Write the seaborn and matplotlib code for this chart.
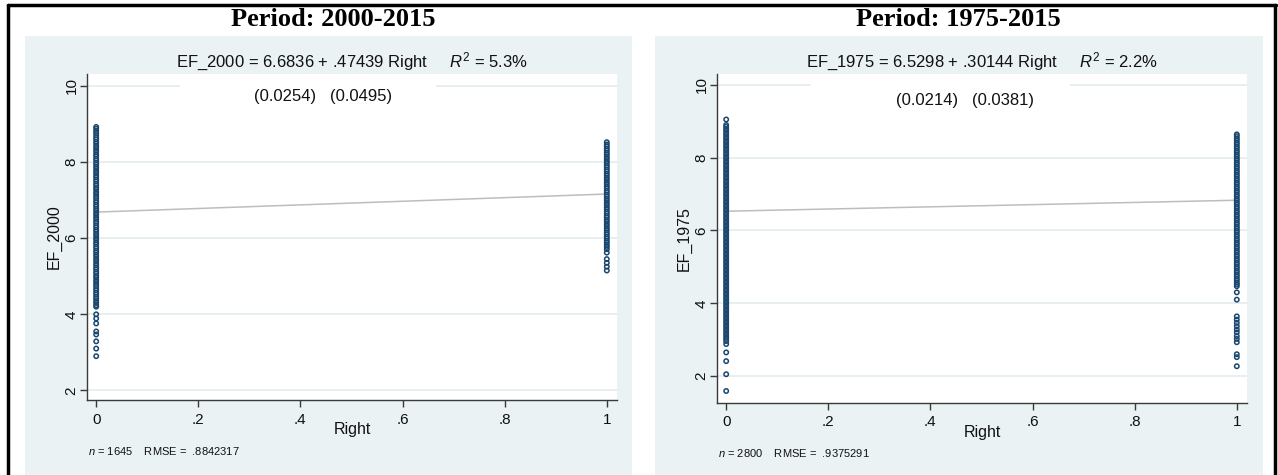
import matplotlib
matplotlib.use("Agg")
import matplotlib.pyplot as plt
import seaborn as sns
import pandas as pd
from matplotlib.patches import Rectangle
from matplotlib.lines import Line2D

# ---------------- data ----------------
panel_titles = ["Period: 2000-2015", "Period: 1975-2015"]
y_names = ["EF_2000", "EF_1975"]
x_name = "Right"
intercepts = [6.6836, 6.5298]
slopes = [0.47439, 0.30144]
se_text = ["(0.0254)   (0.0495)", "(0.0214)   (0.0381)"]
r2_text = ["5.3%", "2.2%"]
n_obs = [1645, 2800]
rmse = [".8842317", ".9375291"]
x_ticks = [0, 0.2, 0.4, 0.6, 0.8, 1]
x_ticklabels = ["0", ".2", ".4", ".6", ".8", "1"]
y_ticks = [2, 4, 6, 8, 10]

# EF_2000 observations, Right = 0
ef2000_right0 = [8.92, 8.87, 8.81, 8.76, 8.7, 8.64, 8.59, 8.53, 8.48, 8.42, 8.37, 8.31,
                 8.26, 8.2, 8.15, 8.09, 8.04, 7.98, 7.93, 7.87, 7.82, 7.76, 7.71, 7.65,
                 7.6, 7.54, 7.49, 7.43, 7.38, 7.32, 7.27, 7.21, 7.16, 7.1, 7.05, 6.99,
                 6.94, 6.88, 6.83, 6.77, 6.72, 6.66, 6.61, 6.55, 6.5, 6.44, 6.39, 6.33,
                 6.28, 6.22, 6.17, 6.11, 6.06, 6.0, 5.95, 5.89, 5.84, 5.78, 5.73, 5.67,
                 5.62, 5.56, 5.51, 5.45, 5.4, 5.34, 5.29, 5.23, 5.18, 5.12, 5.07, 5.01,
                 4.96, 4.9, 4.85, 4.79, 4.74, 4.68, 4.63, 4.57, 4.52, 4.46, 4.41, 4.35,
                 4.3, 4.24, 4.2, 4.0, 3.89, 3.76, 3.55, 3.47, 3.29, 3.1, 2.9]
# EF_2000 observations, Right = 1
ef2000_right1 = [8.52, 8.46, 8.41, 8.35, 8.3, 8.24, 8.19, 8.13, 8.08, 8.02, 7.97, 7.91,
                 7.86, 7.8, 7.75, 7.69, 7.64, 7.58, 7.53, 7.47, 7.42, 7.36, 7.31, 7.25,
                 7.2, 7.14, 7.09, 7.03, 6.98, 6.92, 6.87, 6.81, 6.76, 6.7, 6.65, 6.59,
                 6.54, 6.48, 6.43, 6.37, 6.32, 6.26, 6.21, 6.15, 6.1, 6.04, 5.99, 5.93,
                 5.88, 5.82, 5.77, 5.71, 5.62, 5.45, 5.35, 5.25, 5.15]
# EF_1975 observations, Right = 0
ef1975_right0 = [9.05, 8.9, 8.85, 8.79, 8.74, 8.68, 8.63, 8.57, 8.52, 8.46, 8.41, 8.35,
                 8.3, 8.24, 8.19, 8.13, 8.08, 8.02, 7.97, 7.91, 7.86, 7.8, 7.75, 7.69,
                 7.64, 7.58, 7.53, 7.47, 7.42, 7.36, 7.31, 7.25, 7.2, 7.14, 7.09, 7.03,
                 6.98, 6.92, 6.87, 6.81, 6.76, 6.7, 6.65, 6.59, 6.54, 6.48, 6.43, 6.37,
                 6.32, 6.26, 6.21, 6.15, 6.1, 6.04, 5.99, 5.93, 5.88, 5.82, 5.77, 5.71,
                 5.66, 5.6, 5.55, 5.49, 5.44, 5.38, 5.33, 5.27, 5.22, 5.16, 5.11, 5.05,
                 5.0, 4.94, 4.89, 4.83, 4.78, 4.72, 4.67, 4.61, 4.56, 4.5, 4.45, 4.39,
                 4.34, 4.28, 4.23, 4.17, 4.12, 4.06, 4.01, 3.95, 3.9, 3.84, 3.79, 3.73,
                 3.68, 3.62, 3.57, 3.51, 3.46, 3.4, 3.35, 3.29, 3.24, 3.18, 3.13, 3.07,
                 3.02, 2.96, 2.88, 2.65, 2.41, 2.05, 1.59]
# EF_1975 observations, Right = 1
ef1975_right1 = [8.64, 8.59, 8.53, 8.48, 8.42, 8.37, 8.31, 8.26, 8.2, 8.15, 8.09, 8.04,
                 7.98, 7.93, 7.87, 7.82, 7.76, 7.71, 7.65, 7.6, 7.54, 7.49, 7.43, 7.38,
                 7.32, 7.27, 7.21, 7.16, 7.1, 7.05, 6.99, 6.94, 6.88, 6.83, 6.77, 6.72,
                 6.66, 6.61, 6.55, 6.5, 6.44, 6.39, 6.33, 6.28, 6.22, 6.17, 6.11, 6.06,
                 6.0, 5.95, 5.89, 5.84, 5.78, 5.73, 5.67, 5.62, 5.56, 5.51, 5.45, 5.4,
                 5.34, 5.29, 5.23, 5.18, 5.12, 5.07, 5.01, 4.96, 4.9, 4.85, 4.79, 4.74,
                 4.68, 4.63, 4.57, 4.52, 4.47, 4.3, 4.1, 3.64, 3.55, 3.46, 3.37, 3.28,
                 3.2, 3.1, 3.02, 2.93, 2.6, 2.52, 2.27]

# ---------------- style ----------------
sns.set_theme(style="white")
plt.rcParams["font.family"] = ["Liberation Sans", "DejaVu Sans"]
plt.rcParams["mathtext.fontset"] = "custom"
plt.rcParams["mathtext.rm"] = "Liberation Sans"
plt.rcParams["mathtext.it"] = "Liberation Sans:italic"

GREY_BG = "#EAF2F3"
GRID = "#E3ECEE"
NAVY = "#1A476F"
FIT = "#BDBDBD"
AXC = "#3A3A3A"

fig = plt.figure(figsize=(12.78, 4.75), dpi=100)
W, H = 1278.0, 475.0

def fx(px):
    return px / W

def fy(py):
    return 1 - py / H

# grey graph regions (behind everything)
for x0, x1 in [(25, 632), (655, 1263)]:
    fig.patches.append(Rectangle((fx(x0), 0), fx(x1) - fx(x0), fy(36), transform=fig.transFigure,
                                 facecolor=GREY_BG, edgecolor="none", zorder=-10))
# table borders
fig.add_artist(Line2D([fx(8), fx(1276)], [fy(5), fy(5)], color="black", lw=2.5, transform=fig.transFigure))
fig.add_artist(Line2D([fx(8), fx(8)], [fy(5), 0], color="black", lw=2.5, transform=fig.transFigure))
fig.add_artist(Line2D([fx(1275), fx(1275)], [fy(5), 0], color="black", lw=2.5, transform=fig.transFigure))

axes_boxes = [(87, 617, 74, 400), (717, 1247, 74, 403)]
ylims = [(1.75, 10.31), (1.26, 10.3)]
title_x = [333, 958]
se_x = [0.445, 0.468]
se_y = [0.93, 0.92]
gap_x = [(0.175, 0.658), (0.177, 0.666)]
series = [(ef2000_right0, ef2000_right1), (ef1975_right0, ef1975_right1)]

for i in range(2):
    l, r, t, b = axes_boxes[i]
    ax = fig.add_axes([fx(l), fy(b), fx(r) - fx(l), fy(t) - fy(b)])
    ax.set_zorder(1)
    ax.set_facecolor("white")
    y0, y1 = series[i]
    df = pd.DataFrame({x_name: [0] * len(y0) + [1] * len(y1), y_names[i]: y0 + y1})
    fit = pd.DataFrame({x_name: [0, 1], "fit": [intercepts[i], intercepts[i] + slopes[i]]})

    for yt in y_ticks:
        ax.axhline(yt, color=GRID, lw=1.2, zorder=0)
    # white text box of the standard errors hides part of the top grid line
    ax.add_patch(Rectangle((gap_x[i][0], 0.86), gap_x[i][1] - gap_x[i][0], 0.13,
                           transform=ax.transAxes, facecolor="white", edgecolor="none", zorder=0.5))
    sns.lineplot(data=fit, x=x_name, y="fit", ax=ax, color=FIT, lw=1.1, zorder=2)
    sns.scatterplot(data=df, x=x_name, y=y_names[i], ax=ax, marker="o", s=10,
                    facecolors="none", edgecolor=NAVY, linewidth=1.1, zorder=3)

    ax.set_xlim(-0.018, 1.02)
    ax.set_ylim(*ylims[i])
    ax.set_xticks(x_ticks)
    ax.set_xticklabels(x_ticklabels)
    ax.set_yticks(y_ticks)
    ax.set_yticklabels([str(v) for v in y_ticks], rotation=90, va="center")
    for s in ["top", "right"]:
        ax.spines[s].set_visible(False)
    for s in ["left", "bottom"]:
        ax.spines[s].set_color(AXC)
        ax.spines[s].set_linewidth(1.0)
    ax.tick_params(axis="both", direction="out", length=5, width=1, color=AXC,
                   labelsize=11, labelcolor="#111111", left=True, bottom=True)
    ax.tick_params(axis="x", pad=4)
    ax.tick_params(axis="y", pad=1)
    ax.set_xlabel(x_name, fontsize=11.5, labelpad=-3, color="#111111")
    ax.set_ylabel(y_names[i], fontsize=11.5, labelpad=2, color="#111111")

    cx = (fx(l) + fx(r)) / 2
    fig.text(cx, fy(62), f"{y_names[i]} = {intercepts[i]:.4f} + .{str(slopes[i]).split('.')[1]} Right     $R^2$ = {r2_text[i]}",
             ha="center", va="center", fontsize=12, color="#111111")
    ax.text(se_x[i], se_y[i], se_text[i], transform=ax.transAxes,
            ha="center", va="center", fontsize=12, color="#111111", zorder=5)
    fig.text(fx(l + 1), fy(451 + 2 * i), f"$n$ = {n_obs[i]}    RMSE =  {rmse[i]}",
             ha="left", va="center", fontsize=8, color="#111111")
    fig.text(fx(title_x[i]), fy(19), panel_titles[i], ha="center", va="center",
             fontsize=19, fontweight="bold", family="Liberation Serif", color="black")

fig.savefig("out.png", dpi=100)
